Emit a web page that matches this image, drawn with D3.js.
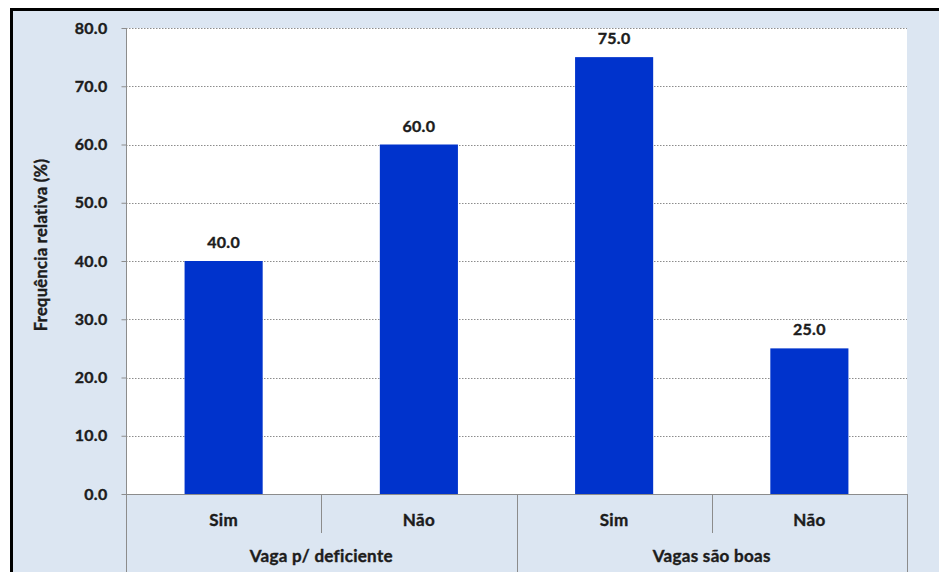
<!DOCTYPE html>
<html>
<head>
<meta charset="utf-8">
<script src="https://cdn.jsdelivr.net/npm/d3@7/dist/d3.min.js"></script>
<style>
  html, body { margin: 0; padding: 0; background: #ffffff; }
  svg { display: block; }
  text { font-family: Lato, "Open Sans", sans-serif; font-weight: 700; fill: #1c1c1c; stroke: #1c1c1c; stroke-width: 0.4px; letter-spacing: 0.3px; }
</style>
</head>
<body>
<svg id="chart" width="939" height="572"></svg>
<script>
// Data
const groups = ["Vaga p/ deficiente", "Vagas são boas"];
const answers = ["Sim", "Não"];
const values = [40.0, 60.0, 75.0, 25.0];
const yTicks = [0, 10, 20, 30, 40, 50, 60, 70, 80];
const yTitle = "Frequência relativa (%)";

const rows = [];
groups.forEach((g, gi) => answers.forEach((a, ai) => {
  rows.push({ group: g, answer: a, key: g + "|" + a, value: values[gi * answers.length + ai] });
}));

const W = 939, H = 572;
const plot = { left: 126, right: 907, top: 28, bottom: 494 };
const svg = d3.select("#chart");

// Outer frame
svg.append("rect").attr("x", 11.5).attr("y", 9.5).attr("width", W + 10).attr("height", H + 10)
  .attr("fill", "#dce6f2").attr("stroke", "#000").attr("stroke-width", 3);

const x = d3.scaleBand().domain(rows.map(d => d.key)).range([plot.left, plot.right]).paddingInner(0.6).paddingOuter(0.3);
const xOuter = d3.scaleBand().domain(rows.map(d => d.key)).range([plot.left, plot.right]);
const y = d3.scaleLinear().domain([0, 80]).range([plot.bottom, plot.top]);

// Plot area
svg.append("rect").attr("x", plot.left).attr("y", plot.top)
  .attr("width", plot.right - plot.left).attr("height", plot.bottom - plot.top).attr("fill", "#ffffff");

// Gridlines
svg.append("g").selectAll("line").data(yTicks.filter(t => t > 0)).join("line")
  .attr("x1", plot.left).attr("x2", plot.right)
  .attr("y1", d => Math.round(y(d)) + 0.5).attr("y2", d => Math.round(y(d)) + 0.5)
  .attr("stroke", "#8c8c8c").attr("stroke-width", 1).attr("stroke-dasharray", "1.5,1.5");

// Y axis
const yAxis = d3.axisLeft(y).tickValues(yTicks).tickFormat(d3.format(".1f")).tickSize(5).tickPadding(14);
const gy = svg.append("g").attr("transform", `translate(${plot.left + 0.5},0)`).call(yAxis);
gy.select(".domain").remove();
gy.selectAll(".tick line").attr("stroke", "#8c8c8c");
gy.selectAll(".tick text").attr("font-size", 16).attr("font-family", null).attr("fill", null);
svg.append("line").attr("x1", plot.left + 0.5).attr("x2", plot.left + 0.5)
  .attr("y1", plot.top).attr("y2", H).attr("stroke", "#8c8c8c");

// Bars
svg.append("g").selectAll("rect").data(rows).join("rect")
  .attr("x", d => x(d.key)).attr("width", x.bandwidth())
  .attr("y", d => y(d.value)).attr("height", d => y(0) - y(d.value))
  .attr("fill", "#0033cc");

// Value labels
svg.append("g").selectAll("text").data(rows).join("text")
  .attr("x", d => x(d.key) + x.bandwidth() / 2).attr("y", d => y(d.value) - 13)
  .attr("text-anchor", "middle").attr("font-size", 16)
  .text(d => d3.format(".1f")(d.value));

// X baseline
svg.append("line").attr("x1", plot.left).attr("x2", plot.right)
  .attr("y1", plot.bottom + 0.5).attr("y2", plot.bottom + 0.5).attr("stroke", "#8c8c8c");

// Category dividers
const cuts = rows.map(d => xOuter(d.key)).concat([plot.right]);
svg.append("g").selectAll("line").data(cuts.slice(1)).join("line")
  .attr("x1", d => Math.round(d) + 0.5).attr("x2", d => Math.round(d) + 0.5)
  .attr("y1", plot.bottom)
  .attr("y2", (d, i) => ((i + 1) % answers.length === 0) ? H : 533)
  .attr("stroke", "#8c8c8c");

// Answer labels
svg.append("g").selectAll("text").data(rows).join("text")
  .attr("x", d => xOuter(d.key) + xOuter.bandwidth() / 2).attr("y", 526)
  .attr("text-anchor", "middle").attr("font-size", 17)
  .text(d => d.answer);

// Group labels
svg.append("g").selectAll("text").data(groups).join("text")
  .attr("x", (g, gi) => plot.left + (plot.right - plot.left) * (gi + 0.5) / groups.length)
  .attr("y", 562).attr("text-anchor", "middle").attr("font-size", 17)
  .text(d => d);

// Y title
svg.append("text").attr("transform", "translate(47,245) rotate(-90)")
  .attr("text-anchor", "middle").attr("font-size", 16.5).text(yTitle);
</script>
</body>
</html>
